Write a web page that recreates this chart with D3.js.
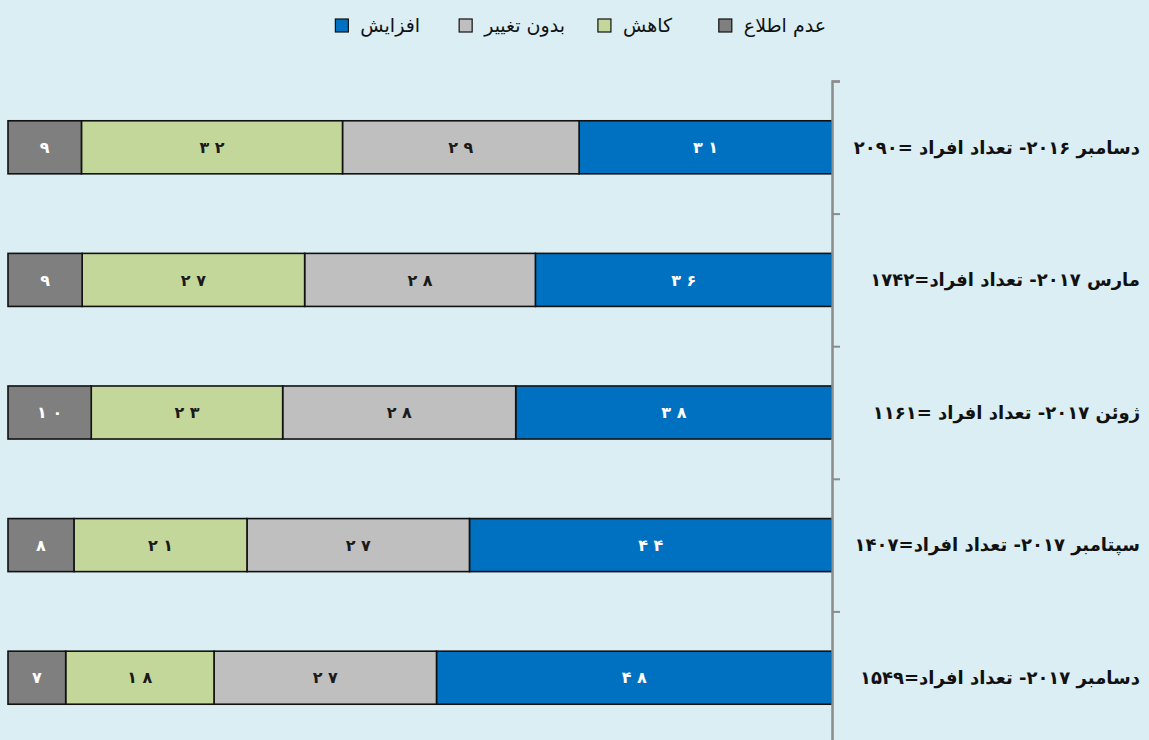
<!DOCTYPE html>
<html>
<head>
<meta charset="utf-8">
<script src="https://cdn.jsdelivr.net/npm/d3@7"></script>
<style>
  html, body { margin: 0; padding: 0; background: #daeef3; }
  svg { display: block; font-family: "DejaVu Sans", sans-serif; }
</style>
</head>
<body>
<script>
// داده ها
var categories = [
  "دسامبر ۲۰۱۶- تعداد افراد =۲۰۹۰",
  "مارس ۲۰۱۷- تعداد افراد=۱۷۴۲",
  "ژوئن ۲۰۱۷- تعداد افراد =۱۱۶۱",
  "سپتامبر ۲۰۱۷- تعداد افراد=۱۴۰۷",
  "دسامبر ۲۰۱۷- تعداد افراد=۱۵۴۹"
];
var increase = [31, 36, 38, 44, 48];
var noChange = [29, 28, 28, 27, 27];
var decrease = [32, 27, 23, 21, 18];
var unknown  = [9, 9, 10, 8, 7];

var seriesNames = ["افزایش", "بدون تغییر", "کاهش", "عدم اطلاع"];
var legendOrder = ["عدم اطلاع", "کاهش", "بدون تغییر", "افزایش"];
var colors = {"افزایش": "#0070c0", "بدون تغییر": "#bfbfbf", "کاهش": "#c4d79b", "عدم اطلاع": "#7f7f7f"};
var labelColors = {"افزایش": "#ffffff", "بدون تغییر": "#1a1a1a", "کاهش": "#1a1a1a", "عدم اطلاع": "#ffffff"};

var w = 1149, h = 740;
var padLeft = 8, axisX = 832, padTop = 81, bandH = 132.6;

// ارقام فارسی با فاصله بین رقم ها (مثل نمودار اصلی)
function toFa(n) {
  return String(n).split("").map(function (c) { return "۰۱۲۳۴۵۶۷۸۹"[+c]; }).join(" ");
}

var table = categories.map(function (c, i) {
  return {cat: c, "افزایش": increase[i], "بدون تغییر": noChange[i], "کاهش": decrease[i], "عدم اطلاع": unknown[i]};
});

var svg = d3.select("body").append("svg")
  .attr("width", w)
  .attr("height", h);

var xScale = d3.scaleLinear().domain([0, 1]).range([axisX, padLeft]);
var yScale = d3.scaleBand()
  .domain(categories)
  .range([padTop, padTop + bandH * categories.length])
  .paddingInner(0.6)
  .paddingOuter(0.3);

var stack = d3.stack().keys(seriesNames).offset(d3.stackOffsetExpand);
var series = stack(table);

var groups = svg.selectAll("g.series")
  .data(series)
  .enter().append("g")
  .attr("class", "series")
  .attr("fill", function (d) { return colors[d.key]; });

groups.selectAll("rect")
  .data(function (d) { return d; })
  .enter().append("rect")
  .attr("x", function (d) { return xScale(d[1]); })
  .attr("y", function (d) { return yScale(d.data.cat); })
  .attr("width", function (d) { return xScale(d[0]) - xScale(d[1]); })
  .attr("height", yScale.bandwidth())
  .attr("stroke", "#111")
  .attr("stroke-width", 1.6);

// برچسب مقادیر
series.forEach(function (s) {
  svg.append("g").selectAll("text")
    .data(s)
    .enter().append("text")
    .attr("x", function (d) { return (xScale(d[0]) + xScale(d[1])) / 2; })
    .attr("y", function (d) { return yScale(d.data.cat) + yScale.bandwidth() / 2; })
    .attr("dy", "0.35em")
    .attr("text-anchor", "middle")
    .attr("font-size", "16px")
    .attr("font-weight", "bold")
    .style("white-space", "pre")
    .attr("fill", labelColors[s.key])
    .text(function (d) { return toFa(d.data[s.key]); });
});

// محور
var yAxis = d3.axisRight(d3.scaleLinear().domain([0, categories.length]).range([padTop, padTop + bandH * categories.length]))
  .ticks(categories.length)
  .tickSize(8)
  .tickFormat("");
var ax = svg.append("g")
  .attr("transform", "translate(" + axisX + ",0)")
  .call(yAxis);
ax.select(".domain").attr("stroke", "#8c8c8c").attr("stroke-width", 2.5);
ax.selectAll(".tick line").attr("stroke", "#8c8c8c").attr("stroke-width", 2);

// نام دسته ها
svg.append("g").selectAll("text")
  .data(categories)
  .enter().append("text")
  .attr("x", 1140)
  .attr("y", function (d) { return yScale(d) + yScale.bandwidth() / 2; })
  .attr("dy", "0.35em")
  .attr("direction", "rtl")
  .attr("text-anchor", "start")
  .attr("font-size", "18px")
  .attr("font-weight", "bold")
  .attr("fill", "#111")
  .text(function (d) { return d; });

// راهنما
var legendX = [826, 672, 565, 420];
var legend = svg.append("g").selectAll("g")
  .data(legendOrder)
  .enter().append("g");
legend.append("text")
  .attr("x", function (d, i) { return legendX[i]; })
  .attr("y", 25)
  .attr("dy", "0.35em")
  .attr("direction", "rtl")
  .attr("text-anchor", "start")
  .attr("font-size", "19px")
  .attr("fill", "#111")
  .text(function (d) { return d; });
legend.append("rect")
  .attr("x", function (d, i) {
    var t = d3.select(this.parentNode).select("text").node().getComputedTextLength();
    return legendX[i] - t - 25;
  })
  .attr("y", 19)
  .attr("width", 13)
  .attr("height", 13)
  .attr("fill", function (d) { return colors[d]; })
  .attr("stroke", "#111")
  .attr("stroke-width", 1.2);
</script>
</body>
</html>
